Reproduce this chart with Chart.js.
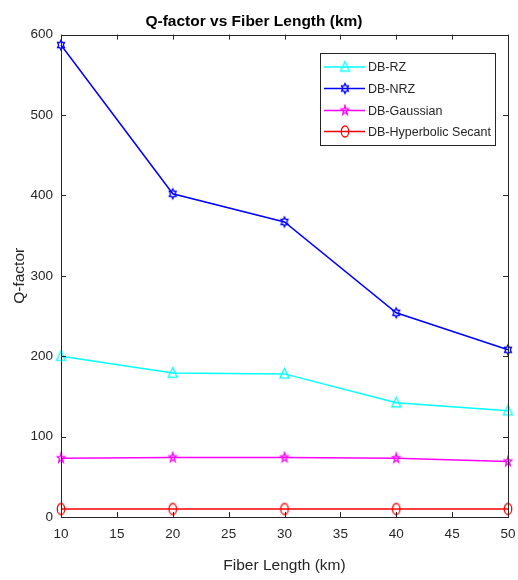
<!DOCTYPE html>
<html>
<head>
<meta charset="utf-8">
<script src="https://cdn.jsdelivr.net/npm/chart.js@4/dist/chart.umd.min.js"></script>
<style>
html,body{margin:0;padding:0;background:#fff;}
#wrap{width:518px;height:580px;position:relative;}
</style>
</head>
<body>
<div id="wrap"><canvas id="c" width="518" height="580"></canvas></div>
<script>
const fiberLength = [10, 20, 30, 40, 50];
const dbRZ = [200, 179, 178, 142, 132];
const dbNRZ = [587, 402, 367, 254, 208];
const dbGaussian = [73, 74, 74, 73, 69];
const dbHyperbolicSecant = [10, 10, 10, 10, 10];
const xTicks = [10, 15, 20, 25, 30, 35, 40, 45, 50];
const yTicks = [0, 100, 200, 300, 400, 500, 600];
const seriesNames = ['DB-RZ', 'DB-NRZ', 'DB-Gaussian', 'DB-Hyperbolic Secant'];

const AX = '#262626';
const FONT = '"Liberation Sans", Arial, Helvetica, sans-serif';

function makeMarker(shape, color, w, h) {
  const cv = document.createElement('canvas');
  cv.width = Math.ceil(w) + 4; cv.height = Math.ceil(h) + 4;
  const ctx = cv.getContext('2d');
  const cx = cv.width / 2, cy = cv.height / 2;
  const rx = w / 2, ry = h / 2;
  ctx.strokeStyle = color; ctx.lineWidth = 1.3; ctx.lineJoin = 'miter';
  ctx.beginPath();
  if (shape === 'circle') {
    ctx.ellipse(cx, cy, rx, ry, 0, 0, Math.PI * 2);
  } else if (shape === 'triangle') {
    ctx.moveTo(cx, cy - ry);
    ctx.lineTo(cx + rx, cy + ry * 0.75);
    ctx.lineTo(cx - rx, cy + ry * 0.75);
    ctx.closePath();
  } else if (shape === 'pentagram' || shape === 'hexagram') {
    const n = shape === 'pentagram' ? 5 : 6;
    const inner = shape === 'pentagram' ? 0.4 : 0.58;
    for (let i = 0; i < 2 * n; i++) {
      const a = -Math.PI / 2 + i * Math.PI / n;
      const r = i % 2 === 0 ? 1 : inner;
      const px = cx + Math.cos(a) * rx * r, py = cy + Math.sin(a) * ry * r;
      if (i === 0) ctx.moveTo(px, py); else ctx.lineTo(px, py);
    }
    ctx.closePath();
  }
  ctx.stroke();
  return cv;
}

const markers = [
  makeMarker('triangle', '#00ffff', 9, 11),
  makeMarker('hexagram', '#0000ff', 8, 10),
  makeMarker('pentagram', '#ff00ff', 8, 10),
  makeMarker('circle', '#ff0000', 7.5, 11)
];
const colors = ['#00ffff', '#0000ff', '#ff00ff', '#ff0000'];
const values = [dbRZ, dbNRZ, dbGaussian, dbHyperbolicSecant];

const datasets = seriesNames.map((name, i) => ({
  label: name,
  data: fiberLength.map((x, j) => ({x: x, y: values[i][j]})),
  borderColor: colors[i],
  backgroundColor: colors[i],
  borderWidth: 1.5,
  pointStyle: markers[i],
  pointRadius: 5,
  tension: 0,
  fill: false,
  clip: false
}));

const boxPlugin = {
  id: 'boxTicks',
  afterDatasetsDraw(chart) {
    const {ctx, chartArea: a, scales} = chart;
    ctx.save();
    ctx.strokeStyle = AX; ctx.lineWidth = 1;
    ctx.strokeRect(Math.round(a.left) + 0.5, Math.round(a.top) + 0.5, Math.round(a.right - a.left), Math.round(a.bottom - a.top));
    const tl = 5;
    ctx.beginPath();
    xTicks.forEach(v => {
      const x = Math.round(scales.x.getPixelForValue(v)) + 0.5;
      ctx.moveTo(x, a.bottom); ctx.lineTo(x, a.bottom - tl);
      ctx.moveTo(x, a.top); ctx.lineTo(x, a.top + tl);
    });
    yTicks.forEach(v => {
      const y = Math.round(scales.y.getPixelForValue(v)) + 0.5;
      ctx.moveTo(a.left, y); ctx.lineTo(a.left + tl, y);
      ctx.moveTo(a.right, y); ctx.lineTo(a.right - tl, y);
    });
    ctx.stroke();

    // legend inside plot
    const lx = 320, ly = 53, lw = 175, lh = 92;
    ctx.fillStyle = '#fff';
    ctx.fillRect(lx, ly, lw, lh);
    ctx.strokeStyle = AX;
    ctx.strokeRect(lx + 0.5, ly + 0.5, lw, lh);
    const rows = [67, 88.5, 110.5, 131.5];
    ctx.font = '12.5px ' + FONT;
    ctx.textBaseline = 'middle';
    ctx.textAlign = 'left';
    chart.data.datasets.forEach((ds, i) => {
      const y = rows[i];
      ctx.strokeStyle = ds.borderColor; ctx.lineWidth = 1.5;
      ctx.beginPath(); ctx.moveTo(324, y); ctx.lineTo(365, y); ctx.stroke();
      const m = ds.pointStyle;
      ctx.drawImage(m, 345 - m.width / 2, y - m.height / 2);
      ctx.fillStyle = AX;
      ctx.fillText(ds.label, 368, y + 1);
    });
    ctx.restore();
  }
};

new Chart(document.getElementById('c'), {
  type: 'line',
  data: {datasets: datasets},
  options: {
    responsive: false,
    animation: false,
    devicePixelRatio: 1,
    layout: {padding: {left: 0, right: 10, top: 0, bottom: 0}},
    plugins: {
      legend: {display: false},
      tooltip: {enabled: false},
      title: {
        display: true,
        text: 'Q-factor vs Fiber Length (km)',
        color: '#000',
        font: {family: FONT, size: 15.5, weight: 'bold'},
        padding: {top: 12, bottom: 4}
      }
    },
    scales: {
      x: {
        type: 'linear',
        min: 10, max: 50,
        afterBuildTicks(s) { s.ticks = xTicks.map(v => ({value: v})); },
        afterFit(s) { s.height = 63; s.paddingLeft = 0; s.paddingRight = 0; },
        grid: {display: true, drawOnChartArea: false, drawTicks: false, color: 'rgba(0,0,0,0)'},
        border: {display: false},
        ticks: {color: AX, font: {family: FONT, size: 13.5}, padding: 9, maxRotation: 0},
        title: {display: true, text: 'Fiber Length (km)', color: AX, font: {family: FONT, size: 15.5}, padding: {top: 0, bottom: 5}}
      },
      y: {
        type: 'linear',
        min: 0, max: 600,
        afterBuildTicks(s) { s.ticks = yTicks.map(v => ({value: v})); },
        afterFit(s) { s.width = 61; s.paddingTop = 0; s.paddingBottom = 0; },
        grid: {display: true, drawOnChartArea: false, drawTicks: false, color: 'rgba(0,0,0,0)'},
        border: {display: false},
        ticks: {color: AX, font: {family: FONT, size: 13.5}, padding: 8},
        title: {display: true, text: 'Q-factor', color: AX, font: {family: FONT, size: 15.5}, padding: {top: 10, bottom: 0}}
      }
    }
  },
  plugins: [boxPlugin]
});
</script>
</body>
</html>
